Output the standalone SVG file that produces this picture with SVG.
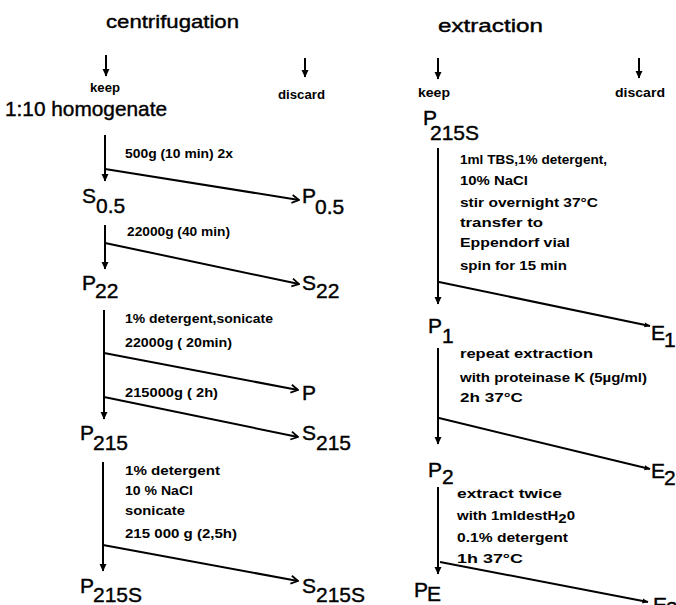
<svg xmlns="http://www.w3.org/2000/svg" width="676" height="605" viewBox="0 0 676 605">
<style>
text{font-family:"Liberation Sans",Arial,sans-serif;fill:#000}
.t{font-size:19px;stroke:#000;stroke-width:0.4}
.n{font-size:21px;stroke:#000;stroke-width:0.4}
.a{font-size:13px;font-weight:bold}
.h{font-size:13px;font-weight:bold}
.l{stroke:#000;stroke-width:2;fill:none}
.v{marker-end:url(#fa)}
.o{marker-end:url(#oa)}
.d{marker-end:url(#da)}
</style>
<defs>
<marker id="fa" viewBox="0 0 8 9" refX="7.5" refY="4.5" markerWidth="8" markerHeight="9" markerUnits="userSpaceOnUse" orient="auto"><path d="M0,0.8 L8,4.5 L0,8.2 z" fill="#000"/></marker>
<marker id="oa" viewBox="0 0 10 10" refX="9" refY="5" markerWidth="10" markerHeight="10" markerUnits="userSpaceOnUse" orient="auto"><path d="M2,1 L9,5 L2,9" fill="none" stroke="#000" stroke-width="1.8"/></marker>
<marker id="da" viewBox="0 0 6 6" refX="5.5" refY="3" markerWidth="6" markerHeight="6" markerUnits="userSpaceOnUse" orient="auto"><path d="M0,0.5 L6,3 L0,5.5 z" fill="#000"/></marker>
</defs>

<g id="headers">
<text class="t" x="106" y="28" textLength="133" lengthAdjust="spacingAndGlyphs">centrifugation</text>
<text class="t" x="438" y="32" textLength="105" lengthAdjust="spacingAndGlyphs">extraction</text>
<text class="h" x="90" y="92" textLength="30" lengthAdjust="spacingAndGlyphs">keep</text>
<text class="h" x="278" y="99" textLength="47" lengthAdjust="spacingAndGlyphs">discard</text>
<text class="h" x="418" y="97" textLength="32" lengthAdjust="spacingAndGlyphs">keep</text>
<text class="h" x="615" y="97" textLength="50" lengthAdjust="spacingAndGlyphs">discard</text>
</g>

<g id="connectors">
<line class="l v" x1="106" y1="55" x2="106" y2="76"/>
<line class="l v" x1="305" y1="58" x2="305" y2="77"/>
<line class="l v" x1="438" y1="58" x2="438" y2="79"/>
<line class="l v" x1="639" y1="58" x2="639" y2="78"/>

<line class="l v" x1="105" y1="135" x2="105" y2="181"/>
<line class="l o" x1="105" y1="169" x2="299" y2="200"/>
<line class="l v" x1="105" y1="225" x2="105" y2="269"/>
<line class="l o" x1="105" y1="243" x2="299" y2="284"/>
<line class="l v" x1="104" y1="310" x2="104" y2="419"/>
<line class="l o" x1="104" y1="353" x2="298" y2="390"/>
<line class="l o" x1="104" y1="397" x2="298" y2="437"/>
<line class="l v" x1="103" y1="462" x2="103" y2="571"/>
<line class="l o" x1="103" y1="545" x2="298" y2="581"/>

<line class="l v" x1="438" y1="148" x2="438" y2="304"/>
<line class="l d" x1="439" y1="282" x2="650" y2="326"/>
<line class="l v" x1="438" y1="348" x2="438" y2="444"/>
<line class="l d" x1="439" y1="418" x2="650" y2="469"/>
<line class="l v" x1="438" y1="487" x2="438" y2="574"/>
<line class="l d" x1="440" y1="562" x2="648" y2="602"/>
</g>

<g id="annotations">
<text class="a" x="125" y="158" textLength="108" lengthAdjust="spacingAndGlyphs">500g (10 min)  2x</text>
<text class="a" x="127" y="236" textLength="103" lengthAdjust="spacingAndGlyphs">22000g (40 min)</text>
<text class="a" x="125" y="323" textLength="148" lengthAdjust="spacingAndGlyphs">1% detergent,sonicate</text>
<text class="a" x="125" y="347" textLength="107" lengthAdjust="spacingAndGlyphs">22000g ( 20min)</text>
<text class="a" x="125" y="397" textLength="93" lengthAdjust="spacingAndGlyphs">215000g ( 2h)</text>
<text class="a" x="125" y="475" textLength="95" lengthAdjust="spacingAndGlyphs">1% detergent</text>
<text class="a" x="125" y="495" textLength="68" lengthAdjust="spacingAndGlyphs">10 % NaCl</text>
<text class="a" x="125" y="515" textLength="60" lengthAdjust="spacingAndGlyphs">sonicate</text>
<text class="a" x="125" y="538" textLength="112" lengthAdjust="spacingAndGlyphs">215 000 g  (2,5h)</text>

<text class="a" x="460" y="164" textLength="147" lengthAdjust="spacingAndGlyphs">1ml TBS,1% detergent,</text>
<text class="a" x="460" y="185" textLength="68" lengthAdjust="spacingAndGlyphs">10% NaCl</text>
<text class="a" x="460" y="207" textLength="138" lengthAdjust="spacingAndGlyphs">stir overnight 37°C</text>
<text class="a" x="460" y="227" textLength="83" lengthAdjust="spacingAndGlyphs">transfer to</text>
<text class="a" x="460" y="247" textLength="110" lengthAdjust="spacingAndGlyphs">Eppendorf vial</text>
<text class="a" x="460" y="270" textLength="107" lengthAdjust="spacingAndGlyphs">spin for  15 min</text>
<text class="a" x="460" y="358" textLength="133" lengthAdjust="spacingAndGlyphs">repeat extraction</text>
<text class="a" x="460" y="382" textLength="187" lengthAdjust="spacingAndGlyphs">with proteinase K (5µg/ml)</text>
<text class="a" x="460" y="402" textLength="63" lengthAdjust="spacingAndGlyphs">2h   37°C</text>
<text class="a" x="457" y="498" textLength="105" lengthAdjust="spacingAndGlyphs">extract twice</text>
<text class="a" x="457" y="520" textLength="118" lengthAdjust="spacingAndGlyphs">with 1mldestH<tspan dy="3">2</tspan><tspan dy="-3">0</tspan></text>
<text class="a" x="457" y="542" textLength="111" lengthAdjust="spacingAndGlyphs">0.1% detergent</text>
<text class="a" x="457" y="563" textLength="66" lengthAdjust="spacingAndGlyphs">1h 37°C</text>
</g>

<g id="homogenate"><text class="n" x="5" y="116" textLength="162" lengthAdjust="spacingAndGlyphs">1:10 homogenate</text></g>
<g id="S05"><text class="n" x="82" y="203">S<tspan x="96" y="213">0.5</tspan></text></g>
<g id="P05"><text class="n" x="302" y="203">P<tspan x="315" y="214">0.5</tspan></text></g>
<g id="P22"><text class="n" x="82" y="290">P<tspan x="95" y="298">22</tspan></text></g>
<g id="S22"><text class="n" x="302" y="290">S<tspan x="316" y="298">22</tspan></text></g>
<g id="P"><text class="n" x="302" y="400">P</text></g>
<g id="P215"><text class="n" x="80" y="440">P<tspan x="93" y="450">215</tspan></text></g>
<g id="S215"><text class="n" x="302" y="440">S<tspan x="316" y="450">215</tspan></text></g>
<g id="P215S"><text class="n" x="80" y="593">P<tspan x="93" y="602">215S</tspan></text></g>
<g id="S215S"><text class="n" x="302" y="593">S<tspan x="316" y="602">215S</tspan></text></g>

<g id="P215S-r"><text class="n" x="423" y="125">P<tspan x="430" y="140">215S</tspan></text></g>
<g id="E1"><text class="n" x="651" y="340">E<tspan x="664" y="347">1</tspan></text></g>
<g id="P1"><text class="n" x="428" y="333">P<tspan x="442" y="343">1</tspan></text></g>
<g id="E2"><text class="n" x="651" y="478">E<tspan x="664" y="485">2</tspan></text></g>
<g id="P2"><text class="n" x="428" y="477">P<tspan x="442" y="484">2</tspan></text></g>
<g id="PE"><text class="n" x="414" y="597">P<tspan x="427" y="601">E</tspan></text></g>
<g id="E3"><text class="n" x="653" y="612">E<tspan x="666" y="616">3</tspan></text></g>
</svg>
